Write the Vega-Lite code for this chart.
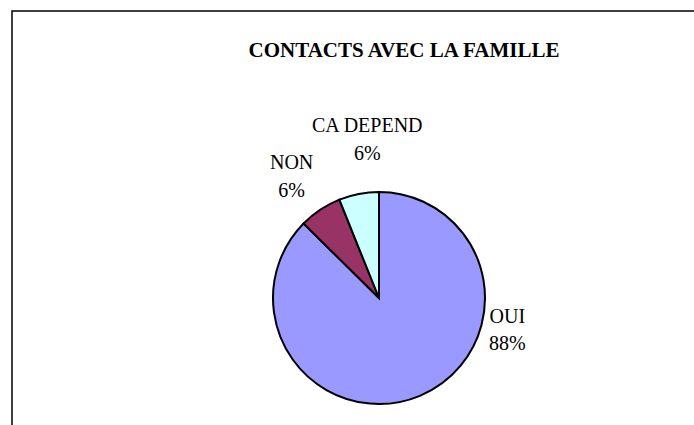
{
  "$schema": "https://vega.github.io/schema/vega-lite/v6.json",
  "width": 734,
  "height": 574,
  "autosize": {"type": "none"},
  "padding": {"left": 12, "top": 11, "right": -52, "bottom": -160},
  "background": "white",
  "title": {
    "text": "CONTACTS AVEC LA FAMILLE",
    "font": "Liberation Serif",
    "fontSize": 21,
    "fontWeight": "bold",
    "color": "#000000",
    "anchor": "middle",
    "frame": "group",
    "orient": "top",
    "baseline": "alphabetic",
    "offset": -68,
    "dx": 25
  },
  "data": {
    "values": [
      {"categorie": "OUI", "valeur": 87.4, "ordre": 1, "etiquette": "OUI\n88%"},
      {"categorie": "NON", "valeur": 6.5, "ordre": 2, "etiquette": "NON\n6%"},
      {"categorie": "CA DEPEND", "valeur": 6.1, "ordre": 3, "etiquette": "CA DEPEND\n6%"}
    ]
  },
  "layer": [
    {
      "data": {"values": [{"cadre": "bordure"}]},
      "mark": {"type": "rect", "fill": null, "stroke": "#000000", "strokeWidth": 1.5},
      "encoding": {}
    },
    {
      "encoding": {
        "theta": {"field": "valeur", "type": "quantitative", "stack": true},
        "order": {"field": "ordre", "type": "quantitative"},
        "detail": {"field": "categorie", "type": "nominal"}
      },
      "layer": [
        {
          "mark": {"type": "arc", "outerRadius": 106, "stroke": "#000000", "strokeWidth": 2, "strokeJoin": "miter"},
          "encoding": {
            "color": {
              "field": "categorie",
              "type": "nominal",
              "scale": {"domain": ["OUI", "NON", "CA DEPEND"], "range": ["#9999FF", "#993366", "#CCFFFF"]},
              "legend": null
            }
          }
        },
        {
          "mark": {"type": "text", "radius": 120, "dx": 82, "dy": -92, "font": "Liberation Serif", "fontSize": 20, "color": "#000000", "lineBreak": "\n", "lineHeight": 27.5, "align": "center", "baseline": "middle"},
          "encoding": {"text": {"condition": {"test": "datum.categorie === 'OUI'", "field": "etiquette"}, "value": ""}}
        },
        {
          "mark": {"type": "text", "radius": 145, "dx": -7, "dy": -14, "font": "Liberation Serif", "fontSize": 20, "color": "#000000", "lineBreak": "\n", "lineHeight": 27.5, "align": "center", "baseline": "middle"},
          "encoding": {"text": {"condition": {"test": "datum.categorie === 'NON'", "field": "etiquette"}, "value": ""}}
        },
        {
          "mark": {"type": "text", "radius": 161.5, "dx": 19, "dy": -13, "font": "Liberation Serif", "fontSize": 20, "color": "#000000", "lineBreak": "\n", "lineHeight": 27.5, "align": "center", "baseline": "middle"},
          "encoding": {"text": {"condition": {"test": "datum.categorie === 'CA DEPEND'", "field": "etiquette"}, "value": ""}}
        }
      ]
    }
  ]
}
